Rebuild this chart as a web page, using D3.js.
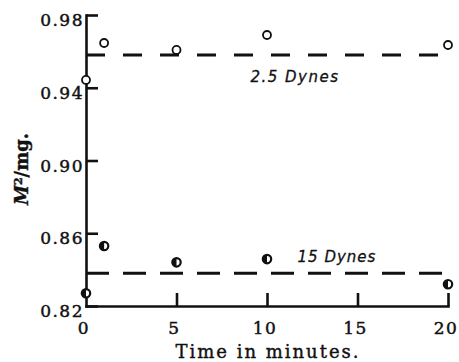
<!DOCTYPE html>
<html>
<head>
<meta charset="utf-8">
<script src="https://cdn.jsdelivr.net/npm/d3@7"></script>
<style>
  body { margin: 0; background: #fff; }
  svg { display: block; }
  .tick-label { font-family: "DejaVu Serif", serif; font-size: 17px; letter-spacing: 1.5px; fill: #111; stroke: #111; stroke-width: 0.45px; }
  .title { font-family: "DejaVu Serif", serif; font-size: 18px; fill: #111; stroke: #111; stroke-width: 0.4px; }
  .note { font-family: "DejaVu Sans", sans-serif; font-style: italic; font-size: 15px; fill: #111; stroke: #111; stroke-width: 0.3px; }
</style>
</head>
<body>
<div class="canvas"></div>
<script>
// data
const times = [0, 1, 5, 10, 20];
const low = [0.9443, 0.9646, 0.9608, 0.969, 0.9635];   // 2.5 dynes
const high = [0.827, 0.853, 0.844, 0.8458, 0.832];     // 15 dynes
const lowMean = 0.958;
const highMean = 0.838;
const xTicks = [0, 5, 10, 15, 20];
const yTicks = [0.82, 0.86, 0.90, 0.94, 0.98];

const dims = {width: 459, height: 362};
const plot = {left: 86, right: 448, top: 15, bottom: 306};

const svg = d3.select('.canvas').append('svg')
  .attr('width', dims.width)
  .attr('height', dims.height);

const x = d3.scaleLinear().domain([0, 20]).range([plot.left, plot.right]);
const y = d3.scaleLinear().domain([0.82, 0.98]).range([plot.bottom, plot.top]);

// axes, ticks pointing inward
const xAxis = d3.axisBottom(x).tickValues(xTicks).tickSizeInner(-13).tickSizeOuter(0).tickFormat('');
const yAxis = d3.axisLeft(y).tickValues(yTicks).tickSizeInner(-12).tickSizeOuter(0).tickFormat('');

const gx = svg.append('g').attr('transform', `translate(0,${plot.bottom})`).call(xAxis);
const gy = svg.append('g').attr('transform', `translate(${plot.left},0)`).call(yAxis);
[gx, gy].forEach(g => {
  g.selectAll('path, line').attr('stroke', '#111').attr('stroke-width', 2.6);
  g.select('.domain').attr('stroke-linecap', 'square');
});
gx.selectAll('.tick').filter(d => d === 0).select('line').remove();

// tick labels
svg.append('g').selectAll('text').data(xTicks).join('text')
  .attr('class', 'tick-label')
  .attr('x', d => x(d) - 2)
  .attr('y', 334)
  .attr('text-anchor', 'middle')
  .text(d => d);

svg.append('g').selectAll('text').data(yTicks).join('text')
  .attr('class', 'tick-label')
  .attr('x', plot.left - 2)
  .attr('y', d => y(d) + 11)
  .attr('text-anchor', 'end')
  .text(d => d.toFixed(2));

// axis titles
svg.append('text').attr('class', 'title')
  .attr('x', 268).attr('y', 358)
  .attr('text-anchor', 'middle')
  .attr('letter-spacing', 2)
  .text('Time in minutes.');

const yt = svg.append('text').attr('class', 'title')
  .attr('transform', 'translate(28,169) rotate(-90)')
  .attr('text-anchor', 'middle')
  .style('font-weight', 'bold');
yt.append('tspan').style('font-style', 'italic').text('M');
yt.append('tspan').attr('dy', -6).style('font-size', '11px').text('2');
yt.append('tspan').attr('dy', 6).text('/mg.');

// mean lines
const dashLine = (val, dash) => svg.append('line')
  .attr('x1', x(0)).attr('x2', x(20))
  .attr('y1', y(val)).attr('y2', y(val))
  .attr('stroke', '#111').attr('stroke-width', 3)
  .attr('stroke-dasharray', dash);
dashLine(lowMean, '19,18');
dashLine(highMean, '23,14');

// 2.5 dynes: open circles
svg.append('g').selectAll('circle').data(times).join('circle')
  .attr('cx', d => x(d))
  .attr('cy', (d, i) => y(low[i]))
  .attr('r', 4)
  .attr('fill', '#fff')
  .attr('stroke', '#111')
  .attr('stroke-width', 1.8);

// 15 dynes: half-filled circles
const half = svg.append('g').selectAll('g').data(times).join('g')
  .attr('transform', (d, i) => `translate(${x(d)},${y(high[i])})`);
half.append('circle').attr('r', 4.2).attr('fill', '#fff').attr('stroke', '#111').attr('stroke-width', 2.2);
half.append('path').attr('d', 'M0,-4.2 A4.2,4.2 0 0 0 0,4.2 Z').attr('fill', '#111');

// labels on the lines
svg.append('text').attr('class', 'note')
  .attr('x', 295).attr('y', 82)
  .attr('text-anchor', 'middle')
  .attr('letter-spacing', 1.5)
  .text('2.5 Dynes');
svg.append('text').attr('class', 'note')
  .attr('x', 337).attr('y', 262)
  .attr('text-anchor', 'middle')
  .attr('letter-spacing', 1)
  .text('15 Dynes');
</script>
</body>
</html>
